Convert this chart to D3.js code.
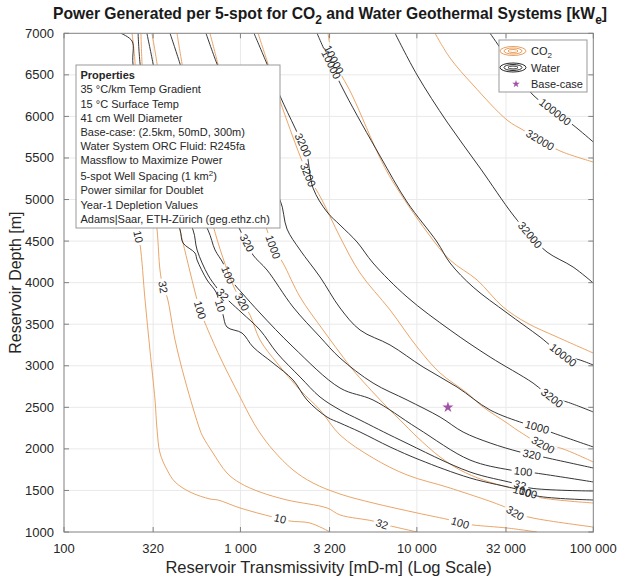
<!DOCTYPE html>
<html><head><meta charset="utf-8">
<script src="https://cdn.jsdelivr.net/npm/d3@7"></script>
<style>
body{margin:0;background:#fff;}
text{font-family:"Liberation Sans",Arial,Helvetica,sans-serif;}
</style></head><body>
<svg id="chart" width="619" height="581"></svg>
<script>
// Contour levels, power per 5-spot [kWe]
const levels = [10, 32, 100, 320, 1000, 3200, 10000, 32000, 100000];

// Axis ticks
const xTicks = [100, 320, 1000, 3200, 10000, 32000, 100000];
const xTickLabels = ["100", "320", "1 000", "3 200", "10 000", "32 000", "100 000"];
const yTicks = [1000, 1500, 2000, 2500, 3000, 3500, 4000, 4500, 5000, 5500, 6000, 6500, 7000];

// CO2 contours: [transmissivity mD-m, depth m]
const co2_10 = [[243,7000],[253,6630],[256,5595],[259,4633],[270,4453],[288,3791],[307,3189],[328,2588],[337,2227],[350,1950],[384,1746],[426,1602],[518,1481],[672,1397],[746,1385],[995,1289],[1530,1180],[1911,1132],[2480,1108],[3220,1000]];
const co2_32 = [[273,7000],[277,6630],[299,5595],[337,4633],[350,4152],[364,3947],[384,3827],[426,3310],[485,2829],[590,2227],[614,2143],[699,1950],[839,1710],[995,1589],[1291,1481],[1837,1385],[3097,1289],[3670,1205],[5646,1132],[6348,1096],[7524,1060],[10030,1000]];
const co2_100 = [[315,7000],[337,6630],[389,5595],[455,4633],[473,4477],[568,3791],[590,3671],[630,3514],[766,3105],[995,2624],[1164,2347],[1291,2191],[1530,1986],[1987,1746],[2580,1589],[3670,1457],[5646,1349],[10030,1229],[15430,1144],[17580,1108],[20830,1084],[32460,1048],[48000,1000]];
const co2_320 = [[437,7000],[467,6630],[575,5595],[699,4693],[908,3971],[1021,3767],[1133,3611],[1291,3310],[1613,3033],[2178,2708],[2827,2468],[3670,2167],[5646,1890],[8801,1686],[15430,1529],[32460,1289],[36040,1229],[45560,1168],[100000,1060]];
const co2_1000 = [[672,7000],[746,6630],[995,5595],[1415,4633],[1530,4429],[1743,4236],[2178,3827],[2940,3430],[3670,3153],[4347,2949],[6434,2552],[8574,2287],[10030,2143],[13540,1902],[17580,1746],[23730,1626],[32460,1541],[41060,1481],[48000,1421],[100000,1349]];
const co2_3200 = [[1259,7000],[1434,6630],[1677,6185],[2178,5523],[2416,5295],[2900,4994],[3670,4549],[4764,4116],[7050,3671],[10030,3226],[13540,2913],[19260,2672],[23730,2504],[32460,2311],[36990,2227],[51920,2047],[64840,2011],[100000,1842]];
const co2_10000 = [[3138,7000],[3349,6702],[4293,6257],[6185,5499],[7331,5211],[11420,4609],[15430,4272],[21950,4032],[30810,3707],[42140,3514],[62350,3346],[100000,3153]];
const co2_32000 = [[12680,7000],[15430,6702],[20830,6378],[32460,5956],[40000,5836],[49920,5716],[64840,5584],[100000,5451]];

// Water contours: [transmissivity mD-m, depth m]
const water_10 = [[210,7000],[243,6907],[246,6630],[288,5836],[374,5114],[455,4633],[473,4477],[553,4356],[568,4272],[647,4032],[727,3887],[766,3731],[797,3611],[839,3466],[1021,3394],[1179,3226],[1530,3033],[1987,2829],[2385,2588],[3097,2383],[3670,2311],[4764,2203],[7050,2023],[10430,1866],[20000,1650],[38460,1505],[48000,1433],[100000,1385]];
const water_32 = [[263,7000],[270,6630],[307,5836],[426,5054],[539,4633],[568,4393],[655,4092],[737,3935],[797,3851],[873,3767],[1021,3635],[1291,3430],[1613,3153],[2178,2865],[2827,2624],[3670,2468],[4764,2347],[8034,2107],[20000,1722],[35100,1589],[43800,1529],[100000,1493]];
const water_100 = [[295,7000],[320,6630],[374,5836],[518,4994],[655,4633],[718,4393],[797,4236],[851,4092],[932,3971],[1021,3875],[1291,3635],[1987,3226],[3670,2732],[5646,2588],[10030,2251],[20000,1866],[33800,1746],[46800,1710],[100000,1602]];
const water_320 = [[399,7000],[455,6630],[590,5836],[818,5054],[995,4633],[1090,4477],[1179,4332],[1415,4152],[1987,3707],[2827,3346],[3670,3093],[5646,2792],[8801,2588],[13540,2383],[18280,2203],[26000,2071],[38460,1962],[51900,1902],[100000,1770]];
const water_1000 = [[638,7000],[737,6630],[995,5956],[1330,5300],[1677,4994],[1837,4645],[2178,4393],[2827,4068],[3670,3695],[4764,3430],[7050,3250],[10840,2985],[16900,2744],[26000,2468],[40000,2311],[48000,2263],[59200,2191],[100000,2023]];
const water_3200 = [[1194,7000],[1415,6630],[1677,6245],[2040,5860],[2264,5656],[2385,5535],[2580,5138],[3097,4850],[3670,4693],[4581,4489],[5646,4236],[8801,3827],[15430,3430],[26000,3105],[45560,2792],[58400,2612],[71040,2564],[100000,2444]];
const water_10000 = [[2718,7000],[3138,6702],[3917,6281],[6185,5523],[8801,4970],[13020,4489],[15430,4236],[20830,3947],[32460,3635],[49920,3346],[67430,3129],[84190,3069],[100000,3009]];
const water_32000 = [[7524,7000],[10030,6498],[14840,5932],[22820,5379],[35110,4814],[43820,4573],[54700,4368],[76830,4188],[100000,3995]];
const water_100000 = [[26000,7000],[31620,6738],[38460,6462],[45560,6257],[60730,6053],[76830,5896],[100000,5692]];

// Inline contour labels: [level, transmissivity, depth]
const co2Labels = [[10,259,4550],[10,1677,1156],[32,364,3947],[32,6348,1096],[100,590,3671],[100,17580,1108],[320,1021,3767],[320,36040,1229],[1000,1530,4429],[1000,41060,1481],[3200,2416,5295],[3200,51920,2047],[10000,3349,6678],[32000,49920,5716]];
const waterLabels = [[10,766,3719],[10,41060,1469],[32,787,3851],[32,38460,1565],[100,851,4092],[100,40000,1722],[320,1090,4477],[320,45000,1950],[1000,48000,2263],[3200,2264,5656],[3200,58400,2612],[10000,3400,6640],[10000,67430,3129],[32000,43820,4573],[100000,60730,6053]];

// Base case: 2.5 km depth, 50 mD x 300 m
const baseCase = [15000, 2500];

const propertiesText = ["35 °C/km Temp Gradient","15 °C Surface Temp","41 cm Well Diameter","Base-case: (2.5km, 50mD, 300m)","Water System ORC Fluid: R245fa","Massflow to Maximize Power","5-spot Well Spacing (1 km","Power similar for Doublet","Year-1 Depletion Values","Adams|Saar, ETH-Zürich (geg.ethz.ch)"];

const co2Color = "#e8a060";
const waterColor = "#2b2b2b";
const axisColor = "#808080";
const textColor = "#262626";

const co2Contours = [[10,co2_10],[32,co2_32],[100,co2_100],[320,co2_320],[1000,co2_1000],[3200,co2_3200],[10000,co2_10000],[32000,co2_32000]];
const waterContours = [[10,water_10],[32,water_32],[100,water_100],[320,water_320],[1000,water_1000],[3200,water_3200],[10000,water_10000],[32000,water_32000],[100000,water_100000]];

const L = 64, R = 593.3, T = 33.3, B = 532;
const x = d3.scaleLog().domain([100, 100000]).range([L, R]);
const y = d3.scaleLinear().domain([1000, 7000]).range([B, T]);

const svg = d3.select("#chart");
const defs = svg.append("defs");
defs.append("clipPath").attr("id", "plotClip")
  .append("rect").attr("x", L).attr("y", T).attr("width", R - L).attr("height", B - T);

// grid
const grid = svg.append("g").attr("stroke", "#e9e9e9").attr("stroke-width", 1);
xTicks.slice(1, -1).forEach(v => grid.append("line").attr("x1", x(v)).attr("x2", x(v)).attr("y1", T).attr("y2", B));
yTicks.slice(1, -1).forEach(v => grid.append("line").attr("y1", y(v)).attr("y2", y(v)).attr("x1", L).attr("x2", R));

const line = d3.line().x(d => x(d[0])).y(d => y(d[1])).curve(d3.curveCatmullRom.alpha(0.5));
const fontSize = 11;
const measure = svg.append("text").attr("font-size", fontSize).attr("visibility", "hidden");
function textWidth(s) { measure.text(s); return measure.node().getComputedTextLength(); }

// nearest point on a contour polyline (pixel space), with local direction
function snap(points, px, py) {
  const P = points.map(d => [x(d[0]), y(d[1])]);
  let best = null;
  for (let i = 0; i < P.length - 1; i++) {
    const [ax, ay] = P[i], [bx, by] = P[i + 1];
    const dx = bx - ax, dy = by - ay;
    let t = ((px - ax) * dx + (py - ay) * dy) / (dx * dx + dy * dy);
    t = Math.max(0, Math.min(1, t));
    const cx = ax + t * dx, cy = ay + t * dy;
    const dist = (cx - px) ** 2 + (cy - py) ** 2;
    if (!best || dist < best.dist) best = { dist, cx, cy, ang: Math.atan2(dy, dx) * 180 / Math.PI };
  }
  let a = best.ang;
  if (a > 90) a -= 180;
  if (a < -90) a += 180;
  return { x: best.cx, y: best.cy, a };
}

const plot = svg.append("g").attr("clip-path", "url(#plotClip)");
const labelLayer = svg.append("g");

function drawSet(contours, labels, color, key) {
  contours.forEach(([lev, pts]) => {
    const id = `gap-${key}-${lev}`;
    const mask = defs.append("mask").attr("id", id).attr("maskUnits", "userSpaceOnUse")
      .attr("x", 0).attr("y", 0).attr("width", 619).attr("height", 581);
    mask.append("rect").attr("width", 619).attr("height", 581).attr("fill", "#fff");
    labels.filter(l => l[0] === lev).forEach(l => {
      const s = snap(pts, x(l[1]), y(l[2]));
      const txt = String(lev);
      const w = textWidth(txt) + 5;
      mask.append("rect").attr("x", -w / 2).attr("y", -5).attr("width", w).attr("height", 10)
        .attr("fill", "#000").attr("transform", `translate(${s.x},${s.y}) rotate(${s.a})`);
      labelLayer.append("text").attr("font-size", fontSize).attr("fill", textColor)
        .attr("text-anchor", "middle").attr("dy", "0.35em")
        .attr("transform", `translate(${s.x},${s.y}) rotate(${s.a})`).text(txt);
    });
    plot.append("path").attr("d", line(pts)).attr("fill", "none")
      .attr("stroke", color).attr("stroke-width", 0.95).attr("mask", `url(#${id})`);
  });
}
drawSet(co2Contours, co2Labels, co2Color, "co2");
drawSet(waterContours, waterLabels, waterColor, "water");

// base case marker
svg.append("path").attr("d", d3.symbol().type(d3.symbolStar).size(38)())
  .attr("transform", `translate(${x(baseCase[0])},${y(baseCase[1])})`)
  .attr("fill", "#a152a8");

// axes box and ticks
const ax = svg.append("g").attr("stroke", axisColor).attr("stroke-width", 1);
ax.append("rect").attr("x", L).attr("y", T).attr("width", R - L).attr("height", B - T).attr("fill", "none");
xTicks.forEach(v => {
  ax.append("line").attr("x1", x(v)).attr("x2", x(v)).attr("y1", B).attr("y2", B - 5);
  ax.append("line").attr("x1", x(v)).attr("x2", x(v)).attr("y1", T).attr("y2", T + 5);
});
yTicks.forEach(v => {
  ax.append("line").attr("y1", y(v)).attr("y2", y(v)).attr("x1", L).attr("x2", L + 5);
  ax.append("line").attr("y1", y(v)).attr("y2", y(v)).attr("x1", R).attr("x2", R - 5);
});
const tl = svg.append("g").attr("fill", textColor).attr("font-size", 13);
xTicks.forEach((v, i) => tl.append("text").attr("x", x(v)).attr("y", B + 21).attr("text-anchor", "middle").text(xTickLabels[i]));
yTicks.forEach(v => tl.append("text").attr("x", L - 10).attr("y", y(v) + 4.5).attr("text-anchor", "end").text(v));

// axis titles
svg.append("text").attr("x", (L + R) / 2).attr("y", 573).attr("text-anchor", "middle")
  .attr("font-size", 16.5).attr("fill", textColor).text("Reservoir Transmissivity [mD-m] (Log Scale)");
svg.append("text").attr("transform", `translate(21,${(T + B) / 2}) rotate(-90)`).attr("text-anchor", "middle")
  .attr("font-size", 16).attr("fill", textColor).text("Reservoir Depth [m]");

// title
const title = svg.append("text").attr("x", 330).attr("y", 19).attr("text-anchor", "middle")
  .attr("font-size", 15.7).attr("font-weight", "bold").attr("fill", "#1a1a1a");
title.append("tspan").text("Power Generated per 5-spot for CO");
title.append("tspan").attr("dy", 5).attr("font-size", 12).text("2");
title.append("tspan").attr("dy", -5).text(" and Water Geothermal Systems [kW");
title.append("tspan").attr("dy", 5).attr("font-size", 12).text("e");
title.append("tspan").attr("dy", -5).text("]");

// properties box
const pb = svg.append("g");
pb.append("rect").attr("x", 76).attr("y", 65).attr("width", 204).attr("height", 163)
  .attr("fill", "#fff").attr("stroke", "#999").attr("stroke-width", 1);
pb.append("text").attr("x", 80.5).attr("y", 79).attr("font-size", 11).attr("font-weight", "bold").attr("fill", textColor).text("Properties");
const lineY = [92.5, 107.5, 121.5, 136, 149.5, 163.5, 179.5, 193.5, 208.5, 222.5];
propertiesText.forEach((s, i) => {
  const t = pb.append("text").attr("x", 80.5).attr("y", lineY[i]).attr("font-size", 11).attr("fill", textColor).text(s);
  if (s.endsWith("(1 km")) {
    t.append("tspan").attr("dy", -4).attr("font-size", 8).text("2");
    t.append("tspan").attr("dy", 4).text(")");
  }
});

// legend
const lg = svg.append("g");
lg.append("rect").attr("x", 499).attr("y", 40).attr("width", 88).attr("height", 52)
  .attr("fill", "#fff").attr("stroke", "#999").attr("stroke-width", 1);
[[co2Color, 51], [waterColor, 67.5]].forEach(([c, cy]) => {
  [[13, 4.5], [9, 3], [5, 1.5]].forEach(([rx, ry]) =>
    lg.append("ellipse").attr("cx", 513).attr("cy", cy).attr("rx", rx).attr("ry", ry)
      .attr("fill", "none").attr("stroke", c).attr("stroke-width", 1));
});
lg.append("path").attr("d", d3.symbol().type(d3.symbolStar).size(18)())
  .attr("transform", "translate(516,84)").attr("fill", "#a152a8");
const leg1 = lg.append("text").attr("x", 531).attr("y", 54.5).attr("font-size", 11).attr("fill", textColor);
leg1.append("tspan").text("CO");
leg1.append("tspan").attr("dy", 3.5).attr("font-size", 8).text("2");
lg.append("text").attr("x", 531).attr("y", 71.5).attr("font-size", 11).attr("fill", textColor).text("Water");
lg.append("text").attr("x", 531).attr("y", 88).attr("font-size", 11).attr("fill", textColor).text("Base-case");
</script>
</body></html>
